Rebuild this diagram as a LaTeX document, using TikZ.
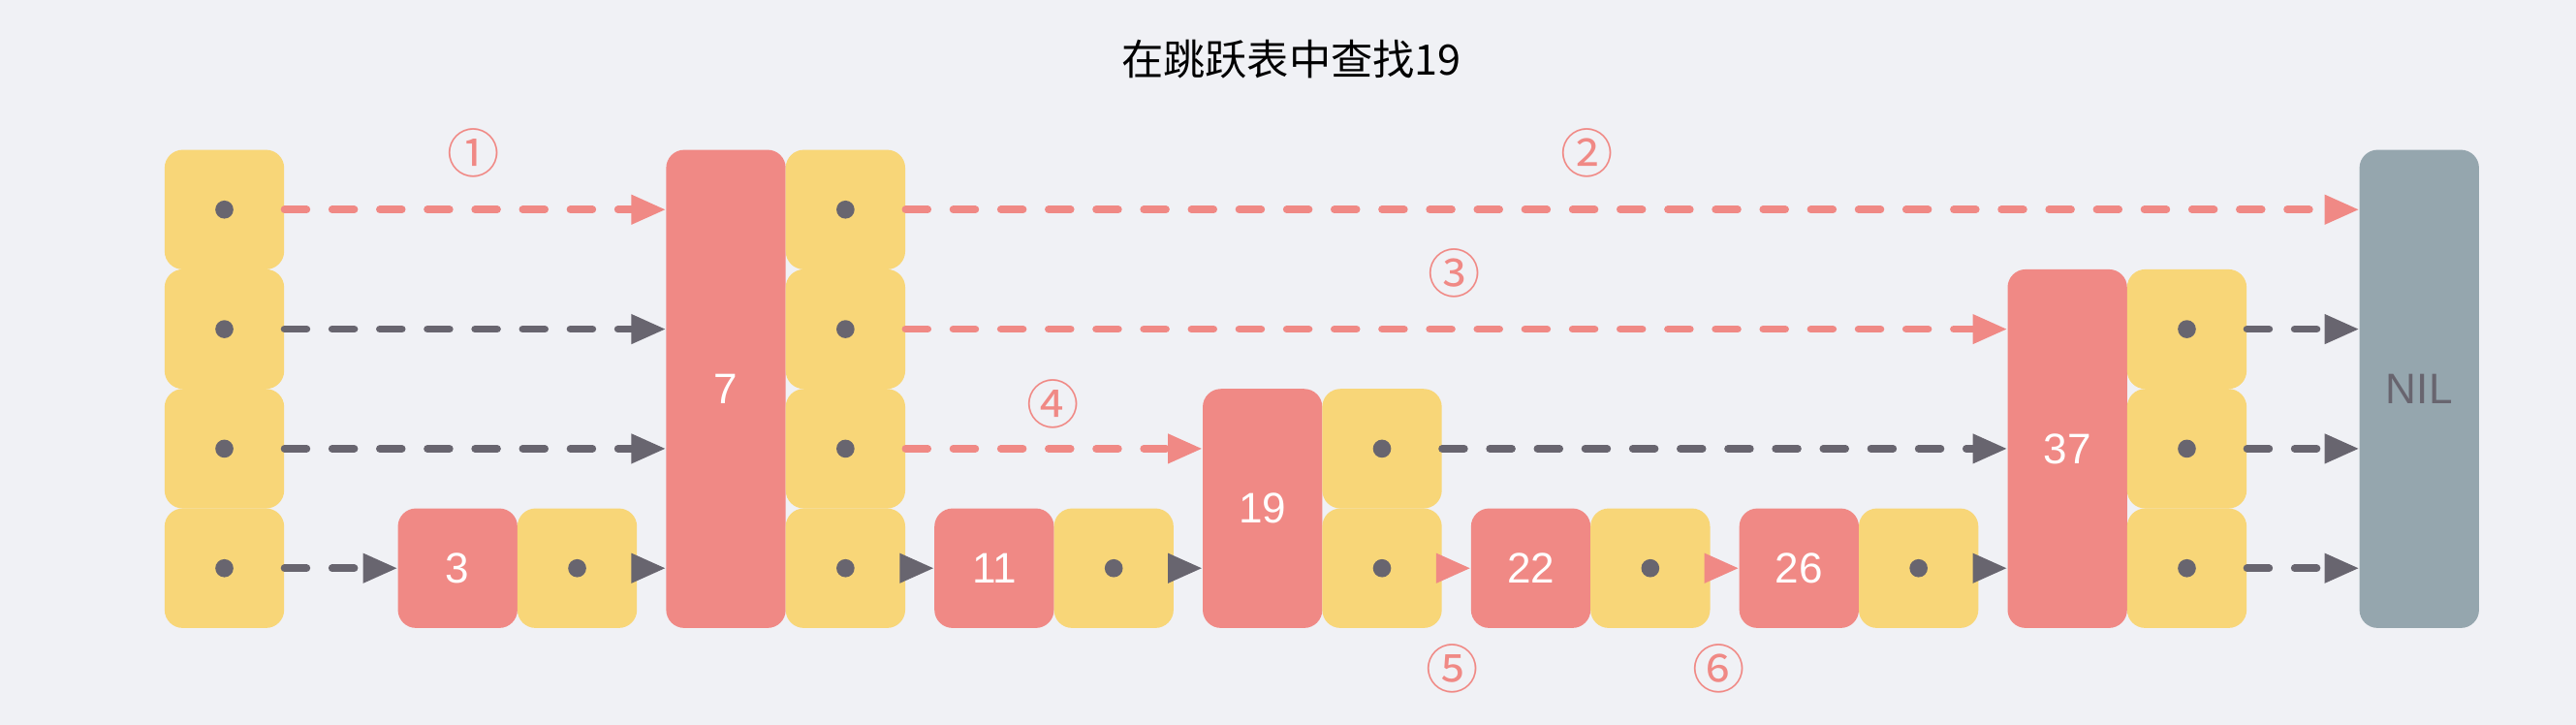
\documentclass[tikz,border=0pt]{standalone}
\usepackage{fontspec}
\setmainfont{Liberation Sans}
\newfontfamily\cjk{Noto Sans CJK SC}
\usetikzlibrary{arrows.meta}
\definecolor{bgc}{HTML}{F0F1F5}
\definecolor{ylw}{HTML}{F8D678}
\definecolor{rd}{HTML}{F08985}
\definecolor{nilc}{HTML}{95A6AE}
\definecolor{dk}{HTML}{68656F}
\begin{document}
\begin{tikzpicture}[x=1pt,y=-1pt,
  cell/.style={fill=ylw, rounded corners=11pt, minimum width=72.75pt, minimum height=72.75pt,
    inner sep=0pt, anchor=north west,
    path picture={\fill[dk] (path picture bounding box.center) circle (5.5pt);}},
  keybox/.style={fill=rd, rounded corners=11pt, minimum width=72.75pt, inner sep=0pt,
    anchor=north west, text=white, font=\fontsize{26}{26}\selectfont},
  nilbox/.style={fill=nilc, rounded corners=11pt, minimum width=72.75pt, minimum height=291pt,
    inner sep=0pt, anchor=north west, text=dk, font=\fontsize{26}{26}\selectfont},
  lbl/.style={text=rd, font=\cjk\fontsize{32}{32}\selectfont, inner sep=0pt},
  link/.style={line width=4.5pt, dash pattern=on 13.5pt off 15.5pt, line cap=round,
    -{Triangle[length=21pt,width=17pt]}},
  tip/.style={line width=4.5pt, line cap=butt, -{Triangle[length=21pt,width=17pt]}},
  grayc/.style={draw=dk, dk},
  redc/.style={draw=rd, rd}
]
\fill[bgc] (0,0) rectangle (1568,441);
\useasboundingbox (0,0) rectangle (1568,441);

\node[font=\cjk\fontsize{25.5}{25.5}\selectfont, text=black] (title) at (786,36) {在跳跃表中查找19};

% head
\node[cell] (h1) at (100,91) {};
\node[cell] (h2) at (100,163.75) {};
\node[cell] (h3) at (100,236.5) {};
\node[cell] (h4) at (100,309.25) {};

% 3
\node[keybox, minimum height=72.75pt] (n3) at (242,309.25) {3};
\node[cell] (y3) at (314.75,309.25) {};
% 7
\node[keybox, minimum height=291pt] (n7) at (405.3,91) {7};
\node[cell] (y7a) at (478.05,91) {};
\node[cell] (y7b) at (478.05,163.75) {};
\node[cell] (y7c) at (478.05,236.5) {};
\node[cell] (y7d) at (478.05,309.25) {};
% 11
\node[keybox, minimum height=72.75pt] (n11) at (568.6,309.25) {11};
\node[cell] (y11) at (641.35,309.25) {};
% 19
\node[keybox, minimum height=145.5pt] (n19) at (731.9,236.5) {19};
\node[cell] (y19c) at (804.65,236.5) {};
\node[cell] (y19d) at (804.65,309.25) {};
% 22
\node[keybox, minimum height=72.75pt] (n22) at (895.2,309.25) {22};
\node[cell] (y22) at (967.95,309.25) {};
% 26
\node[keybox, minimum height=72.75pt] (n26) at (1058.5,309.25) {26};
\node[cell] (y26) at (1131.25,309.25) {};
% 37
\node[keybox, minimum height=218.25pt] (n37) at (1221.8,163.75) {37};
\node[cell] (y37b) at (1294.55,163.75) {};
\node[cell] (y37c) at (1294.55,236.5) {};
\node[cell] (y37d) at (1294.55,309.25) {};
% NIL
\node[nilbox] (nil) at (1436,91) {NIL};

% row 1
\draw[link, redc] (h1.east) -- (h1.east -| n7.west);
\draw[link, redc] (y7a.east) -- (y7a.east -| nil.west);
% row 2
\draw[link, grayc] (h2.east) -- (h2.east -| n7.west);
\draw[link, redc] (y7b.east) -- (y7b.east -| n37.west);
\draw[link, grayc] (y37b.east) -- (y37b.east -| nil.west);
% row 3
\draw[link, grayc] (h3.east) -- (h3.east -| n7.west);
\draw[link, redc] (y7c.east) -- (y7c.east -| n19.west);
\draw[link, grayc] (y19c.east) -- (y19c.east -| n37.west);
\draw[link, grayc] (y37c.east) -- (y37c.east -| nil.west);
% row 4
\draw[link, grayc] (h4.east) -- (n3.west);
\draw[tip, grayc] (y3.east) -- (y3.east -| n7.west);
\draw[tip, grayc] (y7d.east) -- (n11.west);
\draw[tip, grayc] (y11.east) -- (y11.east -| n19.west);
\draw[tip, redc] (y19d.east) -- (n22.west);
\draw[tip, redc] (y22.east) -- (n26.west);
\draw[tip, grayc] (y26.east) -- (y26.east -| n37.west);
\draw[link, grayc] (y37d.east) -- (y37d.east -| nil.west);

% step labels
\node[lbl] (s1) at (288,93) {①};
\node[lbl] (s2) at (966,93) {②};
\node[lbl] (s3) at (885,166) {③};
\node[lbl] (s4) at (641,246) {④};
\node[lbl] (s5) at (884,407) {⑤};
\node[lbl] (s6) at (1046,407) {⑥};
\end{tikzpicture}
\end{document}
